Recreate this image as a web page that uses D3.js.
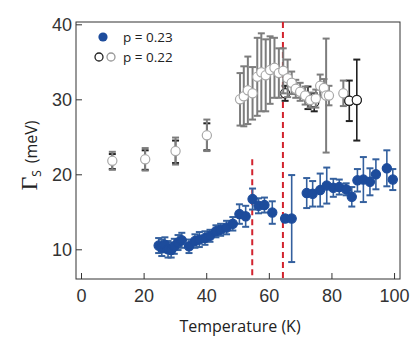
<!DOCTYPE html>
<html>
<head>
<meta charset="utf-8">
<script src="https://cdn.jsdelivr.net/npm/d3@7"></script>
<style>
  body { margin: 0; background: #fff; }
  svg { display: block; font-family: "Open Sans", sans-serif; }
</style>
</head>
<body>
<div class="chart"></div>
<script>
// p = 0.23 (filled blue)
var blueT   = [24.8, 25.8, 26.8, 27.8, 28.8, 29.8, 31.0, 32.2, 34.5, 36.4, 37.8, 39.6, 41.2, 43.1, 44.6, 46.5, 48.5, 50.6, 52.6, 54.8, 56.7, 58.6, 61.1, 65.2, 67.3, 72.1, 74.0, 76.4, 78.5, 80.6, 82.5, 84.7, 86.5, 88.3, 90.2, 92.3, 94.2, 97.7, 99.6];
var blueVal = [10.5, 10.2, 10.6, 10.0, 9.9, 10.4, 10.9, 11.2, 10.4, 11.1, 11.3, 11.5, 11.8, 12.4, 12.6, 12.9, 13.4, 14.7, 14.4, 16.7, 15.8, 15.9, 14.9, 14.1, 14.1, 17.5, 17.4, 17.9, 18.5, 18.2, 18.3, 18.0, 17.0, 19.2, 19.3, 19.0, 20.0, 20.8, 19.3];
var blueErr = [1.0, 1.1, 1.0, 1.1, 1.0, 1.0, 1.0, 1.0, 0.9, 0.9, 1.0, 0.9, 0.8, 0.8, 0.8, 0.9, 0.9, 1.3, 1.4, 1.4, 1.0, 1.0, 1.5, 0.4, 5.8, 2.0, 1.7, 2.2, 2.4, 1.2, 1.0, 0.8, 1.3, 1.5, 3.0, 1.8, 2.0, 2.4, 1.4];

// p = 0.22 (open, grey)
var greyT   = [10.0, 20.5, 30.2, 40.2, 50.8, 52.0, 53.3, 54.8, 56.3, 57.6, 59.0, 60.4, 61.8, 63.2, 64.6, 66.0, 67.3, 68.6, 70.0, 71.6, 73.2, 75.0, 76.4, 77.6, 78.3, 79.2, 83.8];
var greyVal = [21.8, 22.0, 23.1, 25.2, 30.0, 30.4, 31.2, 30.8, 33.0, 33.6, 33.2, 33.9, 34.2, 33.5, 33.8, 32.8, 32.2, 31.4, 31.0, 30.5, 29.9, 30.1, 31.8, 31.5, 30.5, 30.5, 30.8];
var greyErr = [1.2, 1.5, 1.8, 2.1, 3.5, 4.0, 4.5, 3.5, 5.2, 5.2, 4.8, 4.5, 4.0, 3.3, 3.0, 2.5, 1.5, 1.2, 1.2, 1.2, 1.0, 1.2, 1.5, 1.2, 7.6, 1.3, 1.7];

// p = 0.22 (open, black)
var blackT   = [10.0, 20.5, 30.2, 40.2, 65.2, 72.5, 74.5, 85.7, 88.1];
var blackVal = [21.7, 21.9, 23.0, 25.0, 30.8, 30.2, 29.6, 29.8, 29.9];
var blackErr = [1.0, 1.3, 1.5, 1.8, 1.0, 1.5, 1.2, 2.7, 5.4];

// red dashed markers: temperature and top value of the line
var markerT   = [54.7, 64.5];
var markerTop = [22.0, 40.3];

var xTicks = [0, 20, 40, 60, 80, 100];
var yTicks = [10, 20, 30, 40];

var margin = {top: 22, right: 19, bottom: 67, left: 76};
var width = 419 - margin.left - margin.right;
var height = 346 - margin.top - margin.bottom;

var svg = d3.select('.chart')
  .append('svg')
    .attr('width', 419)
    .attr('height', 346)
  .append('g')
    .attr('transform', `translate(${margin.left}, ${margin.top})`);

var xScale = d3.scaleLinear().domain([-1.6, 101.9]).range([0, width]);
var yScale = d3.scaleLinear().domain([6.04, 40.31]).range([height, 0]);

function zip(ts, vs, es) {
  return ts.map((t, i) => ({t: t, v: vs[i], e: es[i]}));
}
var blue = zip(blueT, blueVal, blueErr);
var grey = zip(greyT, greyVal, greyErr);
var black = zip(blackT, blackVal, blackErr);

// axes, ticks inward
var xAxis = svg.append('g')
  .attr('transform', `translate(0, ${height})`)
  .call(d3.axisBottom(xScale).tickValues(xTicks).tickSizeInner(-6).tickSizeOuter(0).tickPadding(10));
var yAxis = svg.append('g')
  .call(d3.axisLeft(yScale).tickValues(yTicks).tickSizeInner(-6).tickSizeOuter(0).tickPadding(4));

[xAxis, yAxis].forEach(function(a) {
  a.select('.domain').remove();
  a.selectAll('line').attr('stroke', '#333');
  a.selectAll('text').attr('font-size', 18).attr('fill', '#333');
});

svg.append('rect')
  .attr('width', width)
  .attr('height', height)
  .attr('fill', 'none')
  .attr('stroke', '#333')
  .attr('stroke-width', 1);

// red dashed lines
svg.selectAll('.marker')
  .data(markerT)
  .enter()
  .append('line')
    .attr('x1', d => xScale(d))
    .attr('x2', d => xScale(d))
    .attr('y1', (d, i) => yScale(markerTop[i]))
    .attr('y2', height)
    .attr('stroke', '#d2232e')
    .attr('stroke-width', 2)
    .attr('stroke-dasharray', '6,4');

function errorBars(data, color, cls, w) {
  var g = svg.append('g').attr('class', cls);
  var cap = 3.5;
  data.forEach(function(d) {
    var x = xScale(d.t);
    var y1 = yScale(d.v + d.e), y2 = yScale(d.v - d.e);
    g.append('line').attr('x1', x).attr('x2', x).attr('y1', y1).attr('y2', y2)
      .attr('stroke', color).attr('stroke-width', w);
    [y1, y2].forEach(function(y) {
      g.append('line').attr('x1', x - cap).attr('x2', x + cap).attr('y1', y).attr('y2', y)
        .attr('stroke', color).attr('stroke-width', 2);
    });
  });
}

function points(data, fill, stroke) {
  svg.append('g')
    .selectAll('circle')
    .data(data)
    .enter()
    .append('circle')
      .attr('cx', d => xScale(d.t))
      .attr('cy', d => yScale(d.v))
      .attr('r', 4.6)
      .attr('fill', fill)
      .attr('stroke', stroke)
      .attr('stroke-width', 1.2);
}

errorBars(black, '#222', 'eb-black', 1.6);
points(black.filter(d => d.t > 60), '#fff', '#222');
errorBars(grey, '#7d7d7d', 'eb-grey', 2);
points(grey, '#fff', '#a8a8a8');
points(black.filter(d => d.t > 80), '#fff', '#222');

errorBars(blue, '#34609e', 'eb-blue', 1.6);
points(blue, '#1d4c9c', '#1d4c9c');

// legend
var legend = svg.append('g');
legend.append('circle').attr('cx', 27).attr('cy', 15).attr('r', 4.6).attr('fill', '#1d4c9c');
legend.append('circle').attr('cx', 23).attr('cy', 35).attr('r', 4).attr('fill', '#fff').attr('stroke', '#222').attr('stroke-width', 1.3);
legend.append('circle').attr('cx', 35).attr('cy', 35).attr('r', 4).attr('fill', '#fff').attr('stroke', '#999').attr('stroke-width', 1.3);
legend.append('text').attr('x', 47).attr('y', 20).attr('font-size', 13.5).attr('fill', '#222').text('p = 0.23');
legend.append('text').attr('x', 47).attr('y', 40).attr('font-size', 13.5).attr('fill', '#222').text('p = 0.22');

// axis titles
svg.append('text')
  .attr('x', width / 2 + 2)
  .attr('y', height + 53)
  .attr('text-anchor', 'middle')
  .attr('font-size', 16)
  .attr('fill', '#222')
  .text('Temperature (K)');

var ylab = svg.append('text')
  .attr('transform', `translate(${-margin.left + 37}, ${yScale(22.5)}) rotate(-90)`)
  .attr('text-anchor', 'middle')
  .attr('fill', '#222');
ylab.append('tspan').attr('font-family', '"Liberation Serif", serif').attr('font-size', 24).text('Γ');
ylab.append('tspan').attr('font-size', 12).attr('dy', 4).text('S');
ylab.append('tspan').attr('font-size', 16).attr('dy', -4).text('\u2009 (meV)');
</script>
</body>
</html>
